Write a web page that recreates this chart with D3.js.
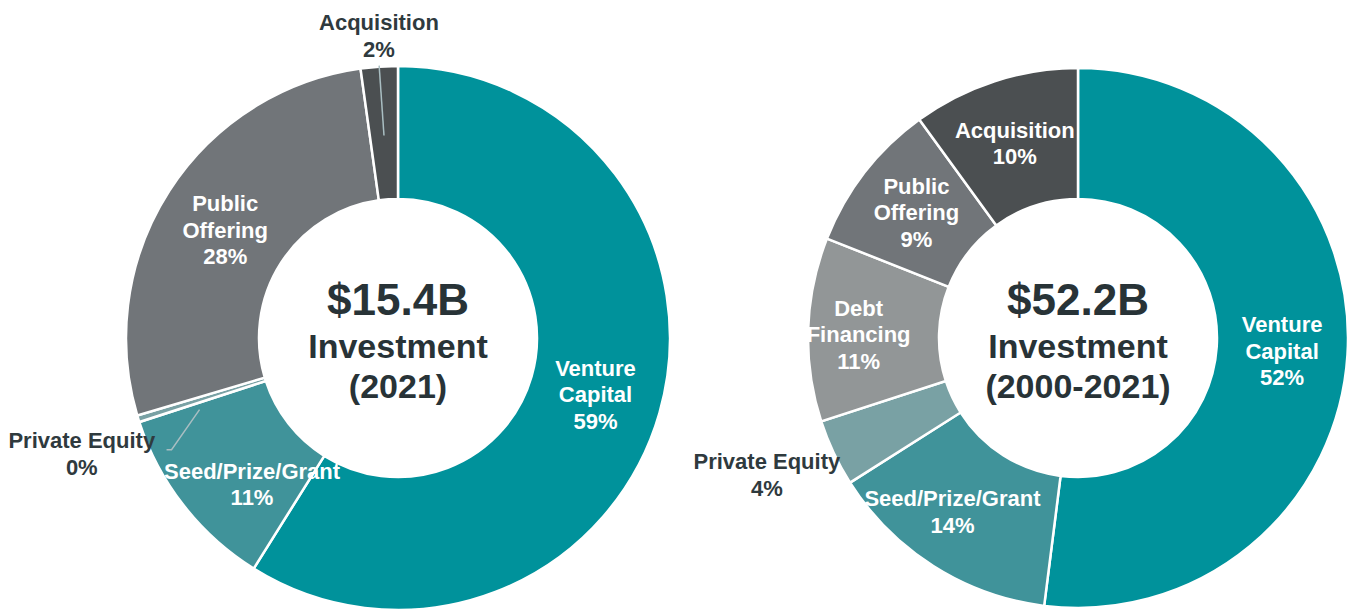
<!DOCTYPE html>
<html lang="en">
<head>
  <meta charset="UTF-8">
  <title>Investment by type</title>
  <script src="https://d3js.org/d3.v7.min.js"></script>
  <style>
    body { margin: 0; background: #fff; }
    text { font-family: "Liberation Sans", Arial, sans-serif; font-weight: bold; }
  </style>
</head>
<body>
  <div id="canvas"></div>
  <script>
    // 2021 only
    const categories2021 = ['Venture Capital', 'Seed/Prize/Grant', 'Private Equity', 'Public Offering', 'Acquisition'];
    const values2021 = [58.9, 11.1, 0.4, 27.4, 2.2];
    const pct2021 = ['59%', '11%', '0%', '28%', '2%'];

    // 2000-2021 cumulative
    const categoriesAll = ['Venture Capital', 'Seed/Prize/Grant', 'Private Equity', 'Debt Financing', 'Public Offering', 'Acquisition'];
    const valuesAll = [52, 14, 4, 11, 9, 10];
    const pctAll = ['52%', '14%', '4%', '11%', '9%', '10%'];

    const totals = ['$15.4B', '$52.2B'];
    const periods = ['(2021)', '(2000-2021)'];

    const width = 1351;
    const height = 611;

    const color = d3.scaleOrdinal()
      .domain(['Venture Capital', 'Seed/Prize/Grant', 'Private Equity', 'Debt Financing', 'Public Offering', 'Acquisition'])
      .range(['#00929b', '#40939a', '#79a1a4', '#929697', '#717579', '#4b4f51']);

    // how the names break into lines
    const wrap = {
      'Venture Capital': ['Venture', 'Capital'],
      'Public Offering': ['Public', 'Offering'],
      'Debt Financing': ['Debt', 'Financing']
    };

    const charts = [
      { cats: categories2021, vals: values2021, pct: pct2021, total: totals[0], period: periods[0],
        cx: 398, cy: 338, outer: 272, inner: 139,
        outside: ['Private Equity', 'Acquisition'],
        nudge: { 'Seed/Prize/Grant': [16, 20], 'Public Offering': [0, 3], 'Private Equity': [-25, 25], 'Acquisition': [2, 2] },
        leaders: true },
      { cats: categoriesAll, vals: valuesAll, pct: pctAll, total: totals[1], period: periods[1],
        cx: 1078, cy: 338, outer: 270, inner: 139,
        outside: ['Private Equity'],
        nudge: { 'Seed/Prize/Grant': [-16, 1], 'Debt Financing': [-15, 3], 'Private Equity': [-37, 8] },
        leaders: false }
    ];

    const svg = d3.select('#canvas')
      .append('svg')
      .attr('width', width)
      .attr('height', height);

    const polar = (a, r) => [Math.sin(a) * r, -Math.cos(a) * r];

    charts.forEach(c => {
      const rows = c.cats.map((k, i) => ({ name: k, value: c.vals[i], pct: c.pct[i] }));
      const pie = d3.pie().sort(null).value(d => d.value);
      const arc = d3.arc().innerRadius(c.inner).outerRadius(c.outer);
      const arcs = pie(rows);

      const g = svg.append('g').attr('transform', 'translate(' + c.cx + ',' + c.cy + ')');

      g.selectAll('path')
        .data(arcs)
        .enter()
        .append('path')
        .attr('d', arc)
        .attr('fill', d => color(d.data.name))
        .attr('stroke', '#fff')
        .attr('stroke-width', 2.5);

      // leader lines (left chart only)
      if (c.leaders) {
        arcs.forEach(d => {
          const mid = (d.startAngle + d.endAngle) / 2;
          let pts;
          if (d.data.name === 'Acquisition') {
            pts = [polar(mid, 203), polar(mid, 273)];
          } else if (d.data.name === 'Private Equity') {
            const s = polar(mid - 0.045, 211);
            pts = [s, [s[0] - 28, s[1] + 40], [s[0] - 33, s[1] + 40]];
          } else return;
          g.append('path')
            .attr('d', d3.line()(pts))
            .attr('fill', 'none')
            .attr('stroke', '#a9bec2')
            .attr('stroke-width', 1.5);
        });
      }

      const fs = 22, lh = 26.5;
      arcs.forEach(d => {
        const name = d.data.name;
        const isOut = c.outside.includes(name);
        const mid = (d.startAngle + d.endAngle) / 2;
        let p = isOut ? polar(mid, c.outer + 33) : arc.centroid(d);
        const n = c.nudge[name] || [0, 0];
        const x = p[0] + n[0], y = p[1] + n[1];
        const lines = (wrap[name] || [name]).concat([d.data.pct]);
        const t = g.append('text')
          .attr('text-anchor', 'middle')
          .style('font-size', fs + 'px')
          .attr('fill', isOut ? '#2f3a3e' : '#ffffff');
        lines.forEach((l, i) => {
          t.append('tspan')
            .attr('x', x)
            .attr('y', y - (lines.length - 1) * lh / 2 + i * lh + fs * 0.35)
            .text(l);
        });
      });

      // centre text
      const center = g.append('g').attr('fill', '#283337').attr('text-anchor', 'middle');
      center.append('text').attr('y', -23).style('font-size', '44px').text(c.total);
      center.append('text').attr('y', 20).style('font-size', '34px').text('Investment');
      center.append('text').attr('y', 60).style('font-size', '34px').text(c.period);
    });
  </script>
</body>
</html>
